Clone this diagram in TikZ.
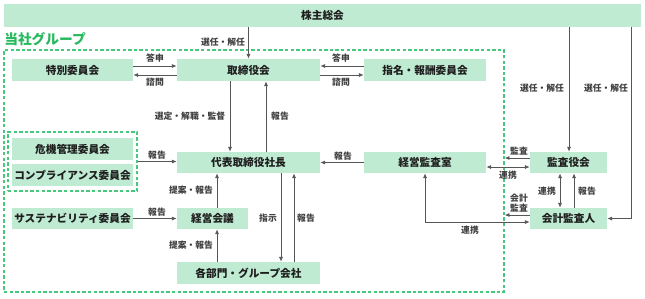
\documentclass[tikz,border=0pt]{standalone}
\usepackage{fontspec}
\setmainfont{Noto Sans CJK JP}
\usetikzlibrary{arrows.meta}
\definecolor{boxg}{RGB}{192,235,211}
\definecolor{headg}{RGB}{40,185,95}
\definecolor{dashg}{RGB}{70,200,125}
\definecolor{lineg}{RGB}{85,85,85}
\definecolor{txt}{RGB}{30,30,30}
\begin{document}
\begin{tikzpicture}[x=0.75pt,y=-0.75pt,
  box/.style={fill=boxg, draw=none, inner sep=0pt, text=txt,
    font=\fontsize{8}{9.6}\selectfont\bfseries, minimum height=16.5pt},
  lbl/.style={font=\fontsize{6.6}{7.6}\selectfont\bfseries, text=txt!85!white, inner sep=0pt, align=center},
  arr/.style={draw=lineg, line width=0.6pt, -{Latex[length=3.6pt,width=3pt]}},
  arrb/.style={draw=lineg, line width=0.6pt, {Latex[length=3.6pt,width=3pt]}-{Latex[length=3.6pt,width=3pt]}},
  grpbox/.style={draw=dashg, dash pattern=on 2.6pt off 1.6pt, line width=0.9pt, inner sep=0pt}]
\useasboundingbox (0,0) rectangle (645,298);

% groups
\node[grpbox, minimum width=375pt, minimum height=181.5pt] (grp) at (254,171) {};
\node[grpbox, minimum width=96.75pt, minimum height=44.25pt] (risk) at (72.5,161.5) {};
\node[anchor=west, inner sep=0pt, text=headg, font=\fontsize{10.3}{12}\selectfont\bfseries] (head) at (4,39.5) {当社グループ};

% boxes
\node[box, minimum width=477.75pt, minimum height=17.25pt] (kabu) at (322.5,15.5) {株主総会};
\node[box, minimum width=90.75pt] (tokubetsu) at (72.5,70) {特別委員会};
\node[box, minimum width=107.25pt] (tori) at (248.5,70) {取締役会};
\node[box, minimum width=91.5pt] (shimei) at (425,70) {指名・報酬委員会};
\node[box, minimum width=90.75pt] (kiki) at (72.5,149) {危機管理委員会};
\node[box, minimum width=90.75pt] (comp) at (72.5,175) {コンプライアンス委員会};
\node[box, minimum width=107.25pt, minimum height=15.75pt] (daihyo) at (248.5,162.5) {代表取締役社長};
\node[box, minimum width=91.5pt, minimum height=15.75pt] (shitsu) at (425,162.5) {経営監査室};
\node[box, minimum width=57.75pt, minimum height=15.75pt] (kansayaku) at (568.5,162.5) {監査役会};
\node[box, minimum width=90.75pt, minimum height=15.75pt] (sus) at (72.5,218.5) {サステナビリティ委員会};
\node[box, minimum width=53.25pt, minimum height=15.75pt] (keiei) at (212.5,218.5) {経営会議};
\node[box, minimum width=57.75pt, minimum height=15.75pt] (kaikei) at (568.5,218.5) {会計監査人};
\node[box, minimum width=107.25pt] (kakubu) at (248.5,273) {各部門・グループ会社};

% helper coordinates
\coordinate (x230) at (230,0);
\coordinate (x266) at (266,0);
\coordinate (x217) at (217,0);
\coordinate (x281) at (281,0);
\coordinate (x294) at (294,0);
\coordinate (x560) at (560,0);
\coordinate (x574) at (574,0);
\coordinate (x569) at (569,0);
\coordinate (x631) at (631,0);
\coordinate (y66) at (0,66);
\coordinate (y75) at (0,75);
\coordinate (y158) at (0,158);
\coordinate (y167) at (0,167);
\coordinate (y215) at (0,215);
\coordinate (y218) at (0,218.5);
\coordinate (rk) at (425,222);

% connectors
\draw[arr] (kabu.south -| tori.north) -- (tori.north);
\draw[arr] (tokubetsu.east |- y66) -- (tori.west |- y66);
\draw[arr] (tori.west |- y75) -- (tokubetsu.east |- y75);
\draw[arr] (shimei.west |- y66) -- (tori.east |- y66);
\draw[arr] (tori.east |- y75) -- (shimei.west |- y75);
\draw[arr] (tori.south -| x230) -- (daihyo.north -| x230);
\draw[arr] (daihyo.north -| x266) -- (tori.south -| x266);
\draw[arr] (risk.east) -- (daihyo.west |- risk.east);
\draw[arr] (shitsu.west) -- (daihyo.east);
\draw[arr] (kansayaku.west |- y158) -- (grp.east |- y158);
\draw[arrb] (shitsu.east |- y167) -- (kansayaku.west |- y167);
\draw[arr] (kabu.south -| x569) -- (kansayaku.north -| x569);
\draw[arr] (kabu.south -| x631) -- (x631 |- kaikei.east) -- (kaikei.east);
\draw[arrb] (kansayaku.south -| x560) -- (kaikei.north -| x560);
\draw[arr] (kaikei.north -| x574) -- (kansayaku.south -| x574);
\draw[arr] (kaikei.west |- y215) -- (grp.east |- y215);
\draw[arrb] (shitsu.south -| rk) -- (rk) -- (kaikei.west |- rk);
\draw[arr] (sus.east |- y218) -- (keiei.west |- y218);
\draw[arr] (keiei.north -| x217) -- (daihyo.south -| x217);
\draw[arr] (kakubu.north -| x217) -- (keiei.south -| x217);
\draw[arr] (daihyo.south -| x281) -- (kakubu.north -| x281);
\draw[arr] (kakubu.north -| x294) -- (daihyo.south -| x294);

% labels
\node[lbl] (l1) at (223,42) {選任・解任};
\node[lbl] (l2) at (155,58) {答申};
\node[lbl] (l3) at (155,82) {諮問};
\node[lbl] (l4) at (341,58) {答申};
\node[lbl] (l5) at (341,82) {諮問};
\node[lbl] (l6) at (542,88) {選任・解任};
\node[lbl] (l7) at (606,88) {選任・解任};
\node[lbl] (l8) at (190,116) {選定・解職・監督};
\node[lbl] (l9) at (280,116) {報告};
\node[lbl] (l10) at (157,155) {報告};
\node[lbl] (l11) at (343,156) {報告};
\node[lbl] (l12) at (519,151.5) {監査};
\node[lbl] (l13) at (508,175.5) {連携};
\node[lbl] (l14) at (547,191) {連携};
\node[lbl] (l15) at (587,191) {報告};
\node[lbl] (l16) at (519,203.5) {会計\\監査};
\node[lbl] (l17) at (470,230.5) {連携};
\node[lbl] (l18) at (191,190) {提案・報告};
\node[lbl] (l19) at (191,245) {提案・報告};
\node[lbl] (l20) at (157,212) {報告};
\node[lbl] (l21) at (268,218.5) {指示};
\node[lbl] (l22) at (306,218.5) {報告};
\end{tikzpicture}
\end{document}
